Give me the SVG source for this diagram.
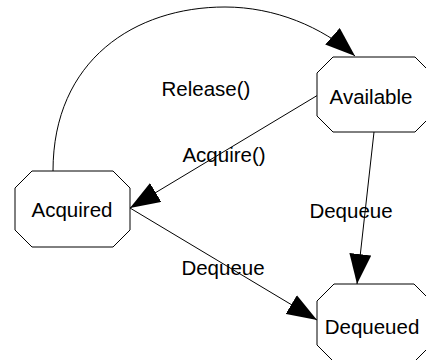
<svg xmlns="http://www.w3.org/2000/svg" width="426" height="360" viewBox="0 0 426 360">
  <style>
    .node { fill: #ffffff; stroke: #000000; stroke-width: 1; }
    .edge { fill: none; stroke: #000000; stroke-width: 1; }
    text { font-family: "Liberation Sans", Arial, sans-serif; font-size: 20.5px; fill: #000000; text-anchor: middle; }
  </style>
  <defs>
    <marker id="arrow" viewBox="0 0 30 22" refX="30" refY="11" markerWidth="30" markerHeight="22" markerUnits="userSpaceOnUse" orient="auto">
      <path d="M0,0 L30,11 L0,22 Z" fill="#000000"/>
    </marker>
  </defs>

  <g id="connectors">
    <path class="edge" d="M53,171 C53,60 135,7 225,7 C275,7 322,27 355,56" marker-end="url(#arrow)"/>
    <path class="edge" d="M318,95 L130,208" marker-end="url(#arrow)"/>
    <path class="edge" d="M374,132 L357,284" marker-end="url(#arrow)"/>
    <path class="edge" d="M130,208 L317,320" marker-end="url(#arrow)"/>
  </g>

  <g id="labels">
    <text x="206" y="96">Release()</text>
    <text x="224" y="162">Acquire()</text>
    <text x="351" y="218">Dequeue</text>
    <text x="223" y="275">Dequeue</text>
  </g>

  <g id="available">
    <polygon class="node" points="333,57 415,57 431,73 431,116 415,132 333,132 317,116 317,73"/>
    <text x="371" y="104">Available</text>
  </g>

  <g id="acquired">
    <polygon class="node" points="32,171 113,171 130,188 130,230 113,247 32,247 15,230 15,188"/>
    <text x="72" y="217">Acquired</text>
  </g>

  <g id="dequeued">
    <polygon class="node" points="334,284 414,284 431,301 431,345 414,362 334,362 317,345 317,301"/>
    <text x="372" y="334">Dequeued</text>
  </g>
</svg>
